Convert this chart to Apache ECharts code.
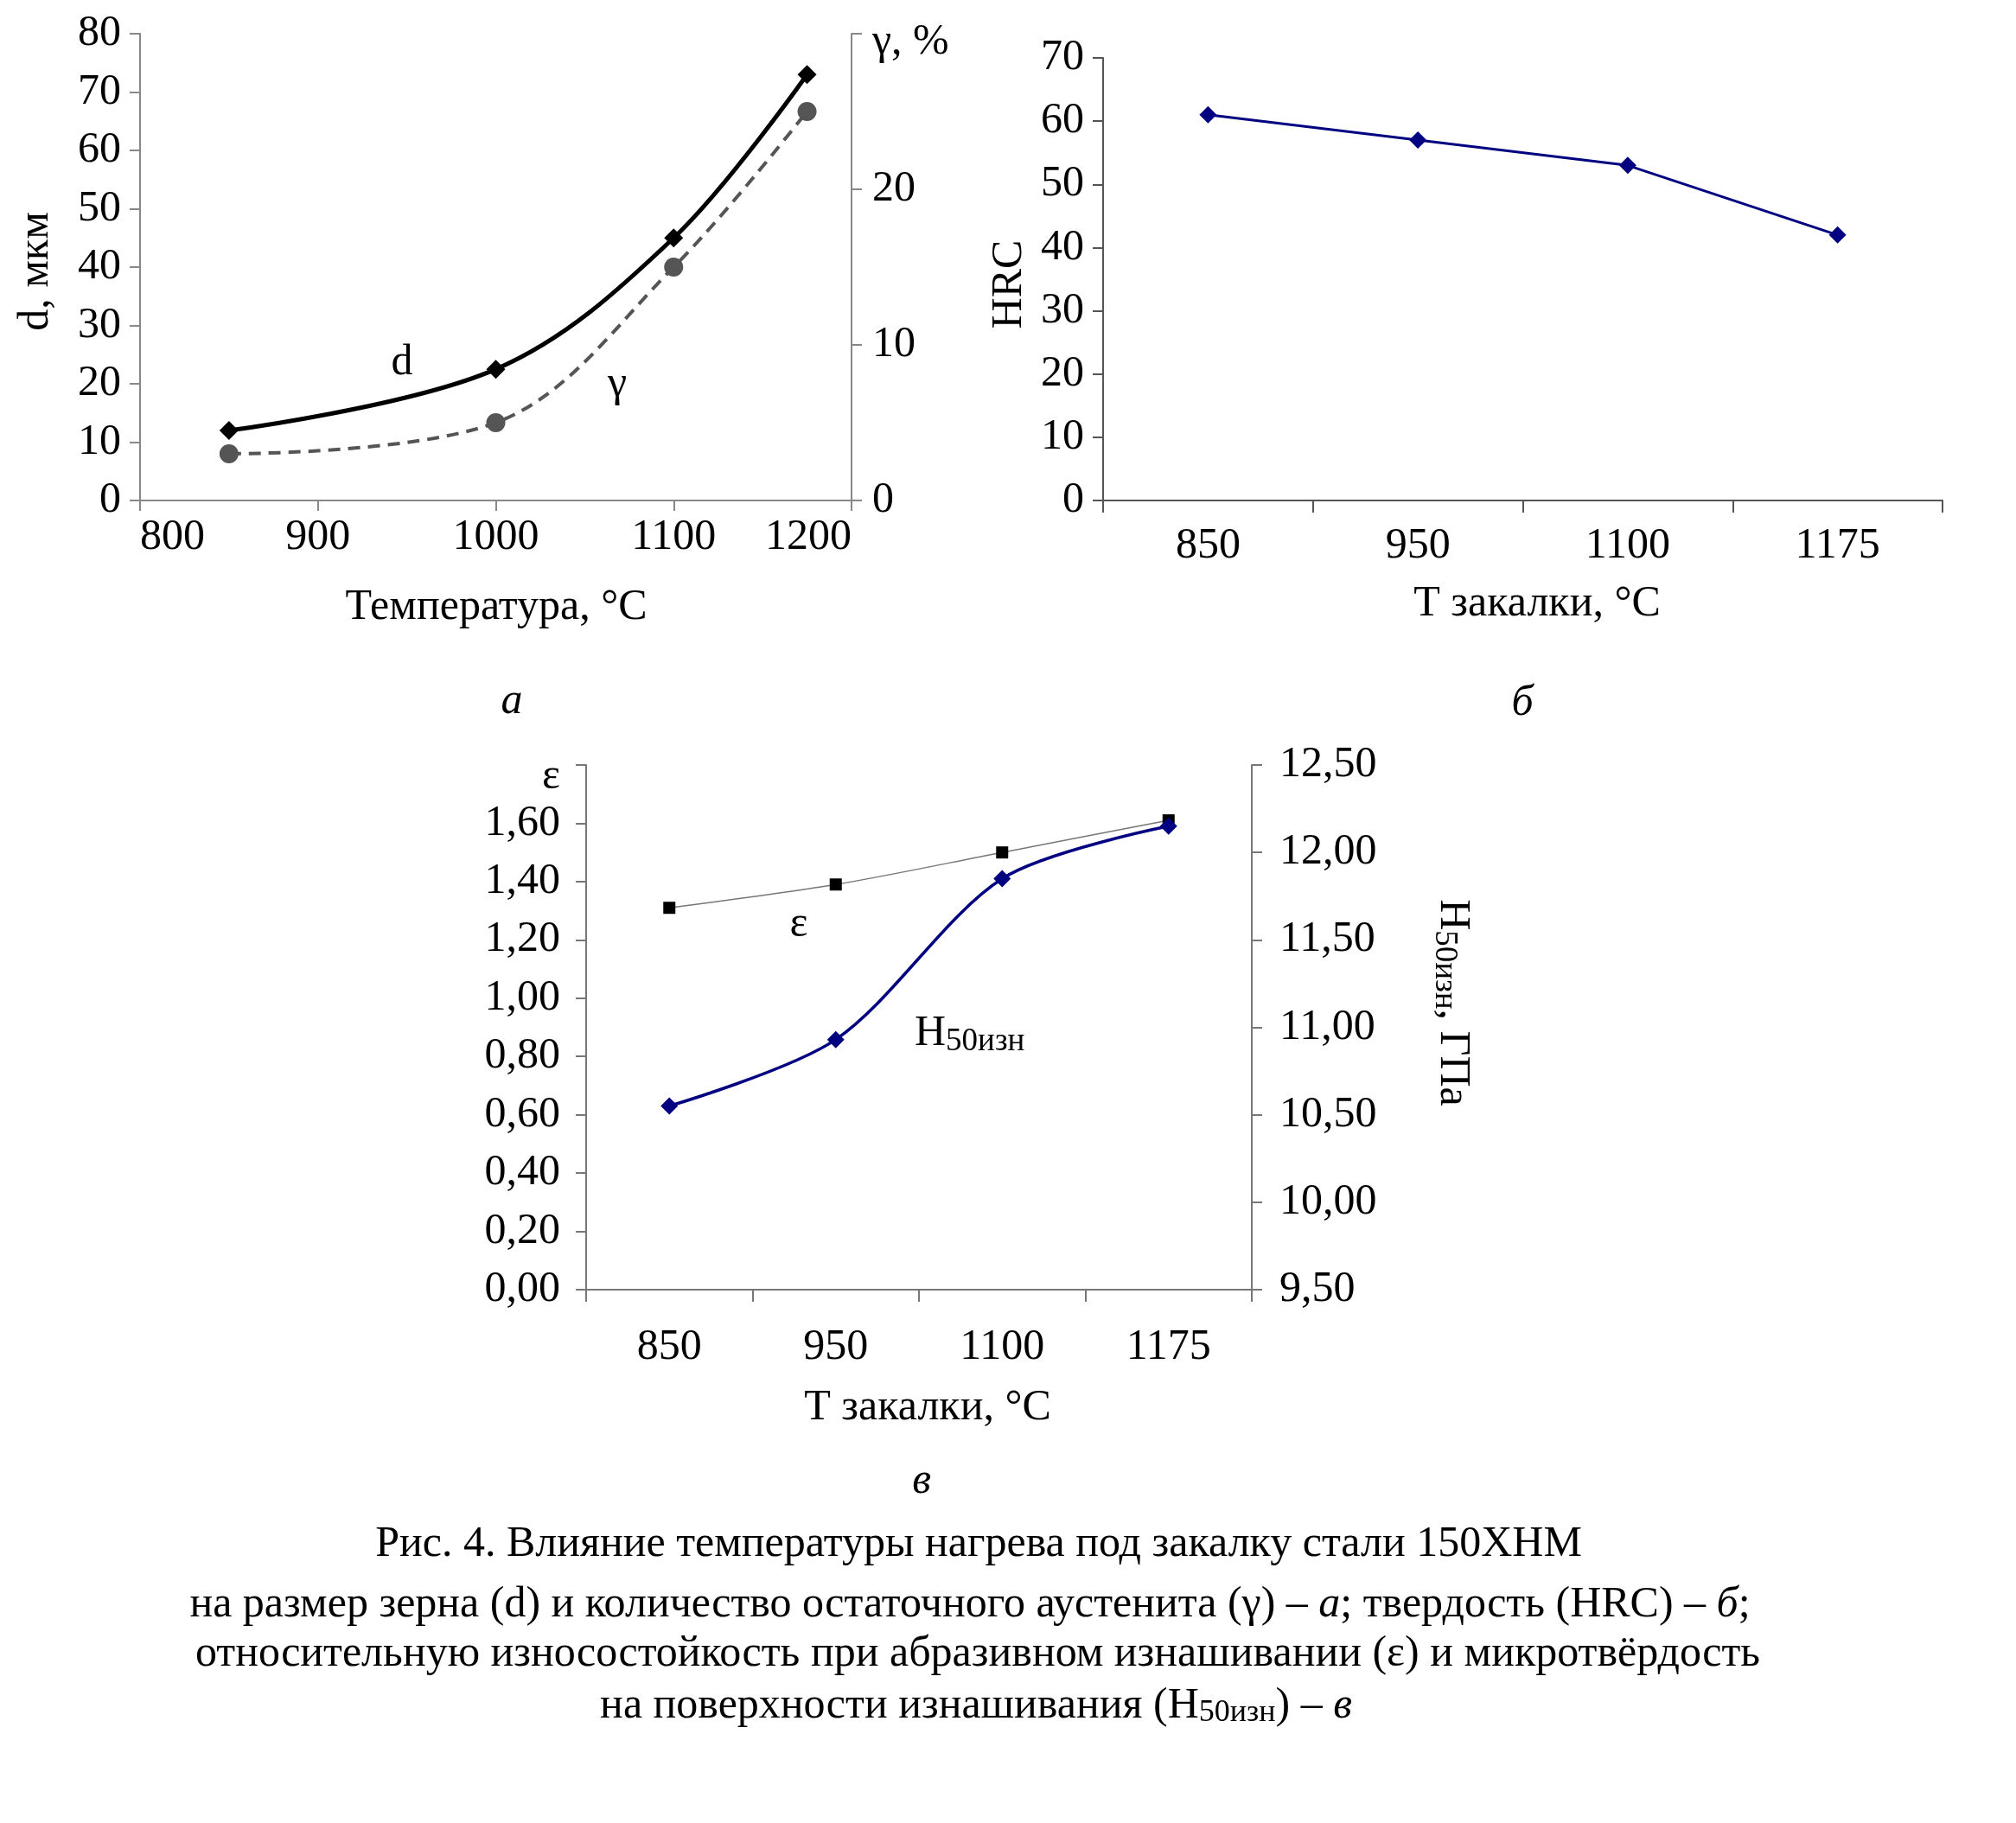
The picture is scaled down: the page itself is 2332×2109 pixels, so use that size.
<!DOCTYPE html>
<html><head><meta charset="utf-8">
<script src="https://cdn.jsdelivr.net/npm/echarts@6/dist/echarts.min.js"></script>
<style>html,body{margin:0;padding:0;background:#fff}#c{width:2332px;height:2109px}</style>
</head><body><div id="c"></div>
<script>
// ---- data ----
const tempA = [850, 1000, 1100, 1175];
const dValues = [12, 22.5, 45, 73];
const gammaValues = [3, 5, 15, 25];
const categoriesB = ['850', '950', '1100', '1175'];
const hrcValues = [61, 57, 53, 42];
const categoriesC = ['850', '950', '1100', '1175'];
const epsValues = [1.31, 1.39, 1.50, 1.61];
const h50Values = [10.55, 10.93, 11.85, 12.15];

const FF = 'Liberation Serif';
const FS = 50;
const CS = 50;
const chart = echarts.init(document.getElementById('c'), null, {renderer: 'canvas'});

function axisBase(color) {
  return {
    axisLine: {show: true, lineStyle: {color: color, width: 2}},
    axisTick: {show: true, length: 12, lineStyle: {color: color, width: 2}},
    splitLine: {show: false},
    axisLabel: {color: '#000', fontFamily: FF, fontSize: FS}
  };
}
function merge(a, b) { return echarts.util.merge(echarts.util.clone(a), b, true); }
const comma = v => v.toFixed(2).replace('.', ',');

function txt(text, x, y, opts) {
  opts = opts || {};
  return {
    type: 'text', x: x, y: y, rotation: opts.rot || 0, silent: true,
    style: Object.assign({
      text: text, fill: '#000',
      font: (opts.italic ? 'italic ' : '') + (opts.size || FS) + 'px "' + FF + '"',
      align: opts.align || 'center', verticalAlign: 'middle'
    }, opts.rich ? {rich: opts.rich} : {})
  };
}
const richBase = {
  n: {fontFamily: FF, fontSize: CS, color: '#000'},
  i: {fontFamily: FF, fontSize: CS, fontStyle: 'italic', color: '#000'},
  s: {fontFamily: FF, fontSize: 36, color: '#000', padding: [16, 0, 0, 0]}
};
const richLbl = {
  a: {fontFamily: FF, fontSize: FS, color: '#000'},
  s: {fontFamily: FF, fontSize: 37, color: '#000', padding: [18, 0, 0, 0]}
};

const option = {
  animation: false,
  backgroundColor: '#fff',
  grid: [
    {left: 162, top: 39, width: 823, height: 540},
    {left: 1276, top: 67, width: 971, height: 512},
    {left: 678, top: 885, width: 770, height: 607}
  ],
  xAxis: [
    merge(axisBase('#888'), {gridIndex: 0, type: 'value', min: 800, max: 1200, interval: 100,
      axisLabel: {margin: 18, formatter: v => String(v), alignMinLabel: 'left', alignMaxLabel: 'right'}}),
    merge(axisBase('#555'), {gridIndex: 1, type: 'category', data: categoriesB, boundaryGap: true,
      axisTick: {interval: 0, length: 14}, axisLabel: {margin: 28, interval: 0}}),
    merge(axisBase('#777'), {gridIndex: 2, type: 'category', data: categoriesC, boundaryGap: true,
      axisTick: {interval: 0, length: 14}, axisLabel: {margin: 42, interval: 0}})
  ],
  yAxis: [
    merge(axisBase('#888'), {gridIndex: 0, type: 'value', min: 0, max: 80, interval: 10,
      axisLabel: {margin: 22}}),
    merge(axisBase('#888'), {gridIndex: 0, type: 'value', position: 'right', min: 0, max: 30, interval: 10,
      axisLabel: {margin: 24, formatter: v => v >= 30 ? '' : String(v)}}),
    merge(axisBase('#555'), {gridIndex: 1, type: 'value', min: 0, max: 70, interval: 10,
      axisLabel: {margin: 22}}),
    merge(axisBase('#777'), {gridIndex: 2, type: 'value', min: 0, max: 1.8, interval: 0.2,
      axisLabel: {margin: 30, formatter: v => v >= 1.79 ? '' : comma(v)}}),
    merge(axisBase('#777'), {gridIndex: 2, type: 'value', position: 'right', min: 9.5, max: 12.5, interval: 0.5,
      axisLabel: {margin: 32, formatter: v => comma(v)}})
  ],
  series: [
    {name: 'd', type: 'line', xAxisIndex: 0, yAxisIndex: 0, smooth: 0.35,
      data: tempA.map((t, i) => [t, dValues[i]]),
      symbol: 'diamond', symbolSize: 22,
      lineStyle: {color: '#000', width: 5}, itemStyle: {color: '#000'}},
    {name: 'γ', type: 'line', xAxisIndex: 0, yAxisIndex: 1, smooth: 0.35,
      data: tempA.map((t, i) => [t, gammaValues[i]]),
      symbol: 'circle', symbolSize: 22,
      lineStyle: {color: '#555', width: 4, type: [14, 9]}, itemStyle: {color: '#555'}},
    {name: 'HRC', type: 'line', xAxisIndex: 1, yAxisIndex: 2, smooth: false,
      data: hrcValues, symbol: 'diamond', symbolSize: 20,
      lineStyle: {color: '#000080', width: 3}, itemStyle: {color: '#000080'}},
    {name: 'ε', type: 'line', xAxisIndex: 2, yAxisIndex: 3, smooth: 0.3,
      data: epsValues, symbol: 'rect', symbolSize: 14,
      lineStyle: {color: '#777', width: 1.5}, itemStyle: {color: '#000'}},
    {name: 'H50', type: 'line', xAxisIndex: 2, yAxisIndex: 4, smooth: 0.3,
      data: h50Values, symbol: 'diamond', symbolSize: 20,
      lineStyle: {color: '#000080', width: 3.5}, itemStyle: {color: '#000080'}}
  ],
  graphic: [
    txt('γ, %', 1009, 49, {align: 'left'}),
    txt('ε', 648, 899, {align: 'right'}),
    txt('d, мкм', 42, 314, {rot: Math.PI / 2}),
    txt('Температура, °С', 574, 703),
    txt('а', 592, 812, {italic: true}),
    txt('d', 465, 420),
    txt('γ', 714, 445),
    txt('HRC', 1168, 329, {rot: Math.PI / 2}),
    txt('Т закалки, °С', 1778, 699),
    txt('б', 1761, 814, {italic: true}),
    txt('ε', 924, 1070),
    txt('{a|H}{s|50изн}', 1058, 1196, {align: 'left', rich: richLbl}),
    txt('{a|H}{s|50изн}{a|, ГПа}', 1680, 1160, {rot: -Math.PI / 2, rich: richLbl}),
    txt('Т закалки, °С', 1073, 1629),
    txt('в', 1066, 1714, {italic: true}),
    txt('{n|Рис. 4. Влияние температуры нагрева под закалку стали 150ХНМ}', 1132, 1787, {rich: richBase}),
    txt('{n|на размер зерна (d) и количество остаточного аустенита (γ) – }{i|а}{n|; твердость (HRC) – }{i|б}{n|;}', 1122, 1857, {rich: richBase}),
    txt('{n|относительную износостойкость при абразивном изнашивании (ε) и микротвёрдость}', 1131, 1914, {rich: richBase}),
    txt('{n|на поверхности изнашивания (H}{s|50изн}{n|) – }{i|в}', 1129, 1974, {rich: richBase})
  ]
};
chart.setOption(option);
</script></body></html>
